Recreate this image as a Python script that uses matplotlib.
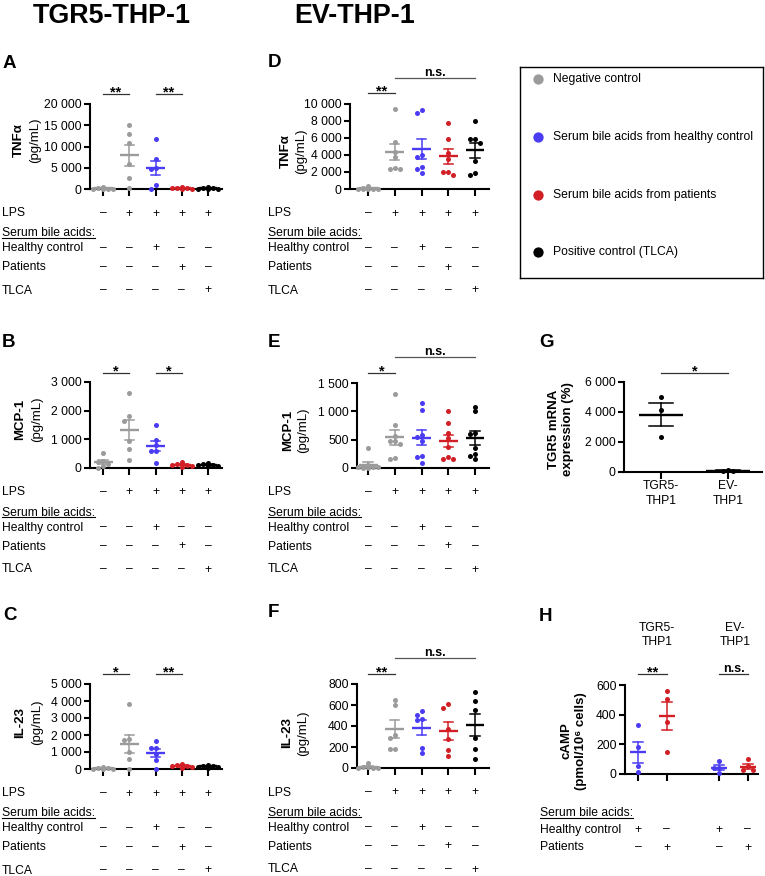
import numpy as np
import matplotlib.pyplot as plt
from matplotlib.ticker import FuncFormatter
from matplotlib.lines import Line2D

plt.rcParams['font.family'] = ['Liberation Sans', 'DejaVu Sans']

W, H = 765, 876

# ---- data ----
lps_row = ['–', '+', '+', '+', '+']
hc_row = ['–', '–', '+', '–', '–']
pat_row = ['–', '–', '–', '+', '–']
tlca_row = ['–', '–', '–', '–', '+']
h_hc_row = ['+', '–', '+', '–']
h_pat_row = ['–', '+', '–', '+']

# TGR5-THP-1 (A, B, C): negative ctrl, LPS, LPS+HC, LPS+patients, LPS+TLCA
tnf_tgr5 = [[450, 200, 100, 50, 0, 0],
            [15000, 12900, 10900, 6000, 2700, 150],
            [11800, 7100, 5000, 4800, 950, 0],
            [550, 350, 250, 150, 80, 0],
            [400, 250, 150, 100, 50, 0]]
mcp_tgr5 = [[520, 250, 200, 130, 80, 0],
            [2630, 1800, 1650, 950, 650, 265],
            [1490, 980, 800, 610, 580, 185],
            [200, 150, 120, 100, 80, 50],
            [180, 150, 120, 100, 80, 60]]
il23_tgr5 = [[120, 50, 30, 0, 0, 0],
             [3830, 1750, 1700, 1000, 610, 0],
             [1640, 1230, 1210, 880, 550, 20],
             [300, 250, 200, 150, 100, 80],
             [250, 200, 150, 120, 100, 80]]

# EV-THP-1 (D, E, F)
tnf_ev = [[300, 100, 50, 0, 0, 0, 0],
          [9300, 5500, 4300, 3700, 2500, 2350, 2350],
          [9200, 8900, 4000, 3700, 2600, 2300, 1900],
          [7700, 5900, 4200, 3500, 2000, 1600, 2000],
          [7970, 5860, 5820, 5350, 3320, 1680, 1910]]
mcp_ev = [[360, 50, 30, 20, 10, 10, 0, 0],
          [1300, 760, 560, 480, 470, 420, 180, 165],
          [1150, 1030, 590, 550, 470, 205, 195, 95],
          [1008, 791, 621, 527, 363, 193, 152, 152],
          [1085, 1000, 610, 600, 350, 250, 210, 165]]
il23_ev = [[50, 10, 5, 0, 0, 0],
           [650, 600, 310, 290, 180, 180],
           [540, 505, 470, 460, 190, 145],
           [611, 574, 376, 273, 176, 113],
           [721, 639, 555, 288, 179, 88]]

# G: TGR5 mRNA expression
mrna_labels = ['TGR5-\nTHP1', 'EV-\nTHP1']
tgr5_mrna = [[5000, 4120, 2360], [110, 90, 80]]

# H: cAMP (TGR5 HC, TGR5 patients, EV HC, EV patients)
camp = [[327, 181, 56, 16], [562, 508, 349, 146], [87, 40, 40, 7], [100, 51, 25, 25]]

legend_labels = ['Negative control', 'Serum bile acids from healthy control',
                 'Serum bile acids from patients', 'Positive control (TLCA)']

GREY, BLUE, RED, BLACK = '#9b9b9b', '#4a3cf3', '#d21f26', '#000000'
colors5 = [GREY, GREY, BLUE, RED, BLACK]
FS = 8.7

fig = plt.figure(figsize=(W / 100, H / 100), dpi=100)


def fx(x):
    return x / W


def fy(y):
    return 1 - y / H


def swarm(ypx, step=5.0, mind=4.6):
    # simple beeswarm: spread overlapping dots sideways (pixel space), max +-2 steps
    order = np.argsort(-ypx)
    placed = []
    offs = np.zeros(len(ypx))
    for i in order:
        best, best_d = 0, -1
        for k in [0, -1, 1, -2, 2]:
            x = k * step
            d = min([np.hypot(x - px, ypx[i] - py) for px, py in placed] or [99])
            if d >= mind:
                best = x
                break
            if d > best_d:
                best, best_d = x, d
        placed.append((best, ypx[i]))
        offs[i] = best
    return offs


def make_axes(l, t, r, b, c0, unit, ymax, yticks):
    ax = fig.add_axes([fx(l), fy(b), (r - l) / W, (b - t) / H])
    ax.set_xlim((l - c0) / unit, (r - c0) / unit)
    ax.set_ylim(0, ymax)
    ax.set_yticks(yticks)
    ax.yaxis.set_major_formatter(FuncFormatter(lambda v, p: f'{int(v):,}'.replace(',', ' ')))
    for s in ['top', 'right']:
        ax.spines[s].set_visible(False)
    for s in ['left', 'bottom']:
        ax.spines[s].set_linewidth(1.5)
    ax.tick_params(axis='y', direction='out', length=4, width=1.5, labelsize=FS, pad=2)
    ax.tick_params(axis='x', direction='out', length=5, width=1.5, labelbottom=False)
    ax.patch.set_alpha(0)
    ax.px = dict(l=l, t=t, r=r, b=b, c0=c0, unit=unit, ymax=ymax)
    return ax


def dot_plot(ax, data, xs, colors, mean_hw, cap_hw):
    p = ax.px
    pxy = (p['b'] - p['t']) / p['ymax']
    ax.set_xticks(xs)
    for x, vals, c in zip(xs, data, colors):
        vals = np.array(vals, float)
        offs = swarm(vals * pxy) / p['unit']
        ax.scatter(x + offs, vals, s=13, color=c, linewidths=0, clip_on=False, zorder=3)
        m = vals.mean()
        se = vals.std(ddof=1) / np.sqrt(len(vals))
        mw = mean_hw / p['unit']
        cw = cap_hw / p['unit']
        ax.plot([x - mw, x + mw], [m, m], color=c, lw=1.7, zorder=4, solid_capstyle='butt')
        ax.plot([x, x], [max(m - se, 0), m + se], color=c, lw=1.1, zorder=4)
        ax.plot([x - cw, x + cw], [m + se, m + se], color=c, lw=1.1, zorder=4)
        if m - se > 0:
            ax.plot([x - cw, x + cw], [m - se, m - se], color=c, lw=1.1, zorder=4)


def sig(ax, x0, x1, ypx, label, color='#333333'):
    p = ax.px
    yf = (p['b'] - ypx) / (p['b'] - p['t'])
    tr = ax.get_xaxis_transform()
    ax.plot([x0, x1], [yf, yf], transform=tr, color=color, lw=0.9, clip_on=False)
    if '*' in label:
        ax.text((x0 + x1) / 2, yf - 2.5 / (p['b'] - p['t']), label, transform=tr, ha='center',
                va='baseline', fontsize=10.5, fontweight='bold')
    else:
        ax.text((x0 + x1) / 2, yf + 2 / (p['b'] - p['t']), label, transform=tr, ha='center',
                va='baseline', fontsize=9, fontweight='bold')


under_texts = []


def rows(xlab, ax, xs, row_list, offsets):
    p = ax.px
    for (name, signs), off in zip(row_list, offsets):
        yb = p['b'] + off + 4.5
        t = fig.text(fx(xlab), fy(yb), name, ha='left', va='baseline', fontsize=FS)
        if name.startswith('Serum'):
            under_texts.append(t)
        if signs is None:
            continue
        for x, s in zip(xs, signs):
            xp = p['c0'] + x * p['unit']
            fig.text(fx(xp), fy(yb), s, ha='center', va='baseline', fontsize=FS)


def ylab(x1, x2, y, l1, l2, w2='bold'):
    fig.text(fx(x1), fy(y), l1, rotation=90, ha='center', va='center', fontsize=9.5, fontweight='bold')
    fig.text(fx(x2), fy(y), l2, rotation=90, ha='center', va='center', fontsize=9.5, fontweight=w2)


def letter(x, y, s):
    fig.text(fx(x), fy(y), s, ha='left', va='baseline', fontsize=13.5, fontweight='bold')


xs5 = [0, 1, 2, 3, 4]
row5 = [('LPS', lps_row), ('Serum bile acids:', None), ('Healthy control', hc_row),
        ('Patients', pat_row), ('TLCA', tlca_row)]
off5 = [23, 43, 58, 77, 100]

# titles
fig.text(fx(33), fy(23), 'TGR5-THP-1', ha='left', va='baseline', fontsize=19.4, fontweight='bold')
fig.text(fx(355), fy(23), 'EV-THP-1', ha='center', va='baseline', fontsize=19.4, fontweight='bold')

# A
axA = make_axes(90, 104, 222, 189, 103, 26.25, 20000, [0, 5000, 10000, 15000, 20000])
dot_plot(axA, tnf_tgr5, xs5, colors5, 9.5, 4.7)
sig(axA, 0, 1, 94, '**')
sig(axA, 2, 3, 94, '**')
rows(2, axA, xs5, row5, off5)
ylab(19, 35, 140, 'TNFα', '(pg/mL)', 'normal')
letter(3, 68, 'A')

# B
axB = make_axes(90, 382, 222, 468, 103, 26.25, 3000, [0, 1000, 2000, 3000])
dot_plot(axB, mcp_tgr5, xs5, colors5, 9.5, 4.7)
sig(axB, 0, 1, 373, '*')
sig(axB, 2, 3, 373, '*')
rows(2, axB, xs5, row5, off5)
ylab(20, 37, 419, 'MCP-1', '(pg/mL)', 'normal')
letter(2, 347, 'B')

# C
axC = make_axes(90, 684, 222, 769, 103, 26.25, 5000, [0, 1000, 2000, 3000, 4000, 5000])
dot_plot(axC, il23_tgr5, xs5, colors5, 9.5, 4.7)
sig(axC, 0, 1, 674, '*')
sig(axC, 2, 3, 674, '**')
rows(2, axC, xs5, row5, off5)
ylab(20, 37, 722, 'IL-23', '(pg/mL)', 'normal')
letter(3, 620, 'C')

# D
axD = make_axes(350, 103.5, 489, 189, 368, 26.75, 10000, [0, 2000, 4000, 6000, 8000, 10000])
dot_plot(axD, tnf_ev, xs5, colors5, 9.5, 4.7)
sig(axD, 0, 1, 93, '**')
sig(axD, 1, 4, 78, 'n.s.', '#555555')
rows(268, axD, xs5, row5, off5)
ylab(286, 301, 151, 'TNFα', '(pg/mL)', 'normal')
letter(268, 67, 'D')

# E
axE = make_axes(357, 383, 489, 468, 368, 26.75, 1500, [0, 500, 1000, 1500])
dot_plot(axE, mcp_ev, xs5, colors5, 9.5, 4.7)
sig(axE, 0, 1, 373, '*')
sig(axE, 1, 4, 357, 'n.s.', '#555555')
rows(268, axE, xs5, row5, off5)
ylab(288, 303, 430, 'MCP-1', '(pg/mL)', 'normal')
letter(268, 347, 'E')

# F
axF = make_axes(357, 684, 489, 768, 368, 26.75, 800, [0, 200, 400, 600, 800])
dot_plot(axF, il23_ev, xs5, colors5, 9.5, 4.7)
sig(axF, 0, 1, 674, '**')
sig(axF, 1, 4, 658, 'n.s.', '#555555')
rows(268, axF, xs5, row5, off5)
ylab(287, 303, 733, 'IL-23', '(pg/mL)', 'normal')
letter(268, 617, 'F')

# G
axG = make_axes(624, 382, 762, 472, 661, 67, 6000, [0, 2000, 4000, 6000])
dot_plot(axG, tgr5_mrna, [0, 1], [BLACK, BLACK], 22, 12)
sig(axG, 0, 1, 373, '*')
for x, lab in zip([0, 1], mrna_labels):
    fig.text(fx(661 + x * 67), fy(480), lab, ha='center', va='top', fontsize=FS, linespacing=1.3)
ylab(554, 568, 429, 'TGR5 mRNA', 'expression (%)')
letter(539, 347, 'G')

# H
xsH = [0, 1, 2.85, 3.85]
axH = make_axes(625, 685, 758, 774, 638, 28.5, 600, [0, 200, 400, 600])
dot_plot(axH, camp, xsH, [BLUE, RED, BLUE, RED], 8, 5)
sig(axH, 0, 1, 674, '**')
sig(axH, 2.85, 3.85, 674, 'n.s.')
fig.text(fx(657), fy(635), 'TGR5-\nTHP1', ha='center', va='center', fontsize=FS, linespacing=1.2)
fig.text(fx(735), fy(635), 'EV-\nTHP1', ha='center', va='center', fontsize=FS, linespacing=1.2)
rows(540, axH, xsH, [('Serum bile acids:', None), ('Healthy control', h_hc_row),
                     ('Patients', h_pat_row)], [38, 54, 72])
ylab(567, 581, 741, 'cAMP', '(pmol/10⁶ cells)')
letter(539, 621, 'H')

# legend box
axL = fig.add_axes([fx(520), fy(278), 243 / W, 211 / H])
axL.set_xlim(0, 243)
axL.set_ylim(211, 0)
axL.set_xticks([])
axL.set_yticks([])
for s in axL.spines.values():
    s.set_linewidth(1.0)
for i, (lab, c) in enumerate(zip(legend_labels, [GREY, BLUE, RED, BLACK])):
    yy = [12, 70, 128, 185][i]
    axL.scatter([18], [yy], s=55, color=c, linewidths=0)
    axL.text(33, yy, lab, ha='left', va='center', fontsize=FS)

# underline "Serum bile acids:"
r = fig.canvas.get_renderer()
for t in under_texts:
    bb = t.get_window_extent(r)
    y0 = bb.y0 + 1.3
    fig.add_artist(Line2D([bb.x0 / W, bb.x1 / W], [y0 / H, y0 / H], transform=fig.transFigure,
                          color='black', lw=0.8))

fig.savefig('out.png', dpi=100)
